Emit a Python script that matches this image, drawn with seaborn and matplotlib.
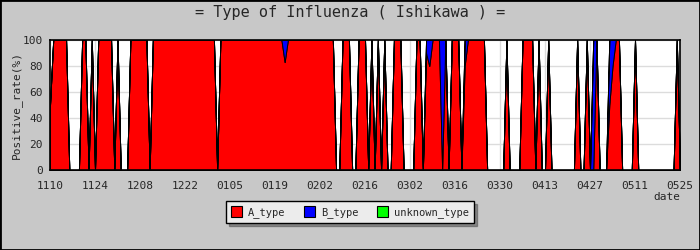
import numpy as np
import pandas as pd
import seaborn as sns
import matplotlib
matplotlib.use("Agg")
import matplotlib.pyplot as plt
from matplotlib.patches import Patch, Rectangle
from matplotlib.ticker import MultipleLocator

sns.set_style("white")
plt.rcParams["font.family"] = ["DejaVu Sans Mono", "DejaVu Sans"]

# ---- data (daily positive rate by type, 1110 .. 0525) ----
tick_labels = ["1110", "1124", "1208", "1222", "0105", "0119", "0202", "0216",
               "0302", "0316", "0330", "0413", "0427", "0511", "0525"]

a_type = [
    50, 100, 100, 100, 100, 100, 0, 0, 0, 0, 100, 100, 0, 100,
    0, 100, 100, 100, 100, 100, 0, 100, 0, 0, 0, 100, 100, 100,
    100, 100, 100, 0, 100, 100, 100, 100, 100, 100, 100, 100, 100, 100,
    100, 100, 100, 100, 100, 100, 100, 100, 100, 100, 0, 100, 100, 100,
    100, 100, 100, 100, 100, 100, 100, 100, 100, 100, 100, 100, 100, 100,
    100, 100, 100, 83, 100, 100, 100, 100, 100, 100, 100, 100, 100, 100,
    100, 100, 100, 100, 100, 0, 0, 100, 100, 100, 0, 0, 100, 100,
    100, 0, 100, 0, 100, 0, 100, 0, 0, 100, 100, 100, 0, 0,
    0, 0, 100, 100, 0, 90, 80, 100, 100, 100, 0, 100, 0, 100,
    100, 100, 0, 80, 100, 100, 100, 100, 100, 100, 0, 0, 0, 0,
    0, 0, 100, 0, 0, 0, 0, 100, 100, 100, 100, 0, 100, 0,
    0, 100, 0, 0, 0, 0, 0, 0, 0, 0, 100, 0, 0, 100,
    0, 0, 100, 0, 0, 0, 50, 80, 100, 100, 0, 0, 0, 0,
    100, 0, 0, 0, 0, 0, 0, 0, 0, 0, 0, 0, 0, 100,
    0,
]

b_type = [
    0, 0, 0, 0, 0, 0, 0, 0, 0, 0, 0, 0, 0, 0,
    0, 0, 0, 0, 0, 0, 0, 0, 0, 0, 0, 0, 0, 0,
    0, 0, 0, 0, 0, 0, 0, 0, 0, 0, 0, 0, 0, 0,
    0, 0, 0, 0, 0, 0, 0, 0, 0, 0, 0, 0, 0, 0,
    0, 0, 0, 0, 0, 0, 0, 0, 0, 0, 0, 0, 0, 0,
    0, 0, 0, 17, 0, 0, 0, 0, 0, 0, 0, 0, 0, 0,
    0, 0, 0, 0, 0, 0, 0, 0, 0, 0, 0, 0, 0, 0,
    0, 0, 0, 0, 0, 0, 0, 0, 0, 0, 0, 0, 0, 0,
    0, 0, 0, 0, 0, 10, 20, 0, 0, 0, 100, 0, 0, 0,
    0, 0, 0, 20, 0, 0, 0, 0, 0, 0, 0, 0, 0, 0,
    0, 0, 0, 0, 0, 0, 0, 0, 0, 0, 0, 0, 0, 0,
    0, 0, 0, 0, 0, 0, 0, 0, 0, 0, 0, 0, 0, 0,
    0, 100, 0, 0, 0, 0, 50, 20, 0, 0, 0, 0, 0, 0,
    0, 0, 0, 0, 0, 0, 0, 0, 0, 0, 0, 0, 0, 0,
    0,
]

unknown_type = [
    0, 0, 0, 0, 0, 0, 0, 0, 0, 0, 0, 0, 0, 0,
    0, 0, 0, 0, 0, 0, 0, 0, 0, 0, 0, 0, 0, 0,
    0, 0, 0, 0, 0, 0, 0, 0, 0, 0, 0, 0, 0, 0,
    0, 0, 0, 0, 0, 0, 0, 0, 0, 0, 0, 0, 0, 0,
    0, 0, 0, 0, 0, 0, 0, 0, 0, 0, 0, 0, 0, 0,
    0, 0, 0, 0, 0, 0, 0, 0, 0, 0, 0, 0, 0, 0,
    0, 0, 0, 0, 0, 0, 0, 0, 0, 0, 0, 0, 0, 0,
    0, 0, 0, 0, 0, 0, 0, 0, 0, 0, 0, 0, 0, 0,
    0, 0, 0, 0, 0, 0, 0, 0, 0, 0, 0, 0, 0, 0,
    0, 0, 0, 0, 0, 0, 0, 0, 0, 0, 0, 0, 0, 0,
    0, 0, 0, 0, 0, 0, 0, 0, 0, 0, 0, 0, 0, 0,
    0, 0, 0, 0, 0, 0, 0, 0, 0, 0, 0, 0, 0, 0,
    0, 0, 0, 0, 0, 0, 0, 0, 0, 0, 0, 0, 0, 0,
    0, 0, 0, 0, 0, 0, 0, 0, 0, 0, 0, 0, 0, 0,
    0,
]

series_names = ["A_type", "B_type", "unknown_type"]
series_colors = ["#ff0000", "#0000ff", "#00ff00"]

df = pd.DataFrame({"day": np.arange(len(a_type)),
                   "A_type": a_type, "B_type": b_type,
                   "unknown_type": unknown_type})

W, H = 700, 250
fig = plt.figure(figsize=(W / 100, H / 100), dpi=100, facecolor="#c8c8c8")
ax = fig.add_axes([50 / W, 80 / H, 630 / W, 130 / H])
ax.set_facecolor("white")

polys = ax.stackplot(df["day"], df["A_type"], df["B_type"], df["unknown_type"],
                     colors=series_colors, edgecolor="black", linewidth=0.7,
                     zorder=3)
for p in polys:
    p.set_antialiased(False)

n_days = len(a_type) - 1
tick_pos = np.linspace(0, n_days, len(tick_labels))
ax.set_xlim(0, n_days)
ax.set_ylim(0, 100)
ax.set_xticks(tick_pos)
ax.set_xticklabels(tick_labels, fontsize=8)
ax.yaxis.set_major_locator(MultipleLocator(20))
ax.yaxis.set_minor_locator(MultipleLocator(10))
ax.tick_params(axis="both", which="both", direction="in", length=4,
               color="black", width=0.8, labelsize=8, pad=5)
ax.tick_params(axis="x", which="major", pad=8)
ax.tick_params(axis="y", which="minor", length=3)
ax.grid(True, axis="both", which="major", color="#dcdcdc", linewidth=1, zorder=0)
ax.set_axisbelow(True)
for s in ax.spines.values():
    s.set_color("black")
    s.set_linewidth(1.2)
    s.set_zorder(5)

ax.set_ylabel("Positive_rate(%)", fontsize=8, labelpad=1)
fig.text(680 / W, 1 - 197 / H, "date", ha="right", va="center", fontsize=8)

fig.text(0.5, 1 - 13 / H, "= Type of Influenza ( Ishikawa ) =",
         ha="center", va="center", fontsize=11)

handles = [Patch(facecolor=c, edgecolor="black", linewidth=0.8) for c in series_colors]
leg = fig.legend(handles, series_names, loc="center",
                 bbox_to_anchor=(0.5, 1 - 212 / H), ncol=3, fontsize=7.5,
                 frameon=True, fancybox=False, shadow=True,
                 edgecolor="black", facecolor="#ececec", framealpha=1,
                 handlelength=1.0, handleheight=1.2, handletextpad=0.6,
                 columnspacing=1.8, borderpad=0.5)
leg.get_frame().set_linewidth(1.0)

fig.patches.append(Rectangle((0, 0), 1, 1, transform=fig.transFigure,
                             fill=False, edgecolor="black", linewidth=2))

fig.savefig("out.png", dpi=100, facecolor=fig.get_facecolor())
